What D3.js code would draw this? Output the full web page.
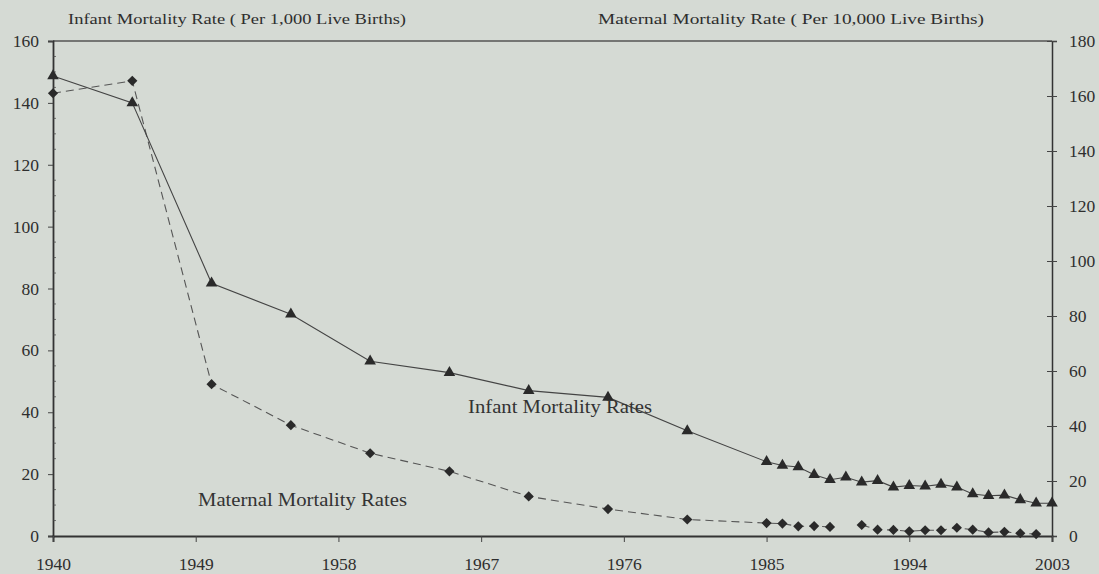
<!DOCTYPE html>
<html>
<head>
<meta charset="utf-8">
<style>
body { margin:0; background:#d5dad4; }
svg { display:block; font-family:"Liberation Serif","Times New Roman",serif; }
.axis text { fill:#2e2e2e; font-size:17.5px; font-family:"Liberation Serif","Times New Roman",serif; }
.axis line { stroke:#444; }
.title { fill:#2e2e2e; font-size:15.5px; }
.note { fill:#333; font-size:19.5px; }
</style>
</head>
<body>
<svg id="chart"></svg>
<script src="https://cdnjs.cloudflare.com/ajax/libs/d3/7.8.5/d3.min.js"></script>
<script>
// years sampled every 5 yrs until 1985, then yearly
var years = [1940,1945,1950,1955,1960,1965,1970,1975,1980,1985,1986,1987,1988,1989,1990,
             1991,1992,1993,1994,1995,1996,1997,1998,1999,2000,2001,2002,2003]
// infant mortality, per 1,000 live births (left axis)
var infantRates = [148.7,140,81.7,71.7,56.5,52.8,47.0,44.8,34.0,24.0,22.8,22.3,19.8,18.2,19.0,
                   17.4,17.9,15.8,16.3,16.1,16.7,15.8,13.6,13.0,13.2,11.7,10.6,10.6]
// maternal mortality, per 10,000 live births (right axis); null = no data
var maternalRates = [161,165.5,55.2,40.3,30.1,23.5,14.4,9.8,6.0,4.7,4.5,3.5,3.6,3.3,null,
                     4.0,2.3,2.2,1.7,2.1,2.1,3.0,2.3,1.3,1.5,1.0,0.7,null]
var xTicks = [1940,1949,1958,1967,1976,1985,1994,2003]
var leftTicks = [0,20,40,60,80,100,120,140,160]
var rightTicks = [0,20,40,60,80,100,120,140,160,180]

var W = 1099, H = 574
var margin = {top:41, right:47, bottom:38, left:53}
var x0 = margin.left, x1 = W - margin.right, y0 = H - margin.bottom, y1 = margin.top

var svg = d3.select('#chart').attr('width', W).attr('height', H)

var x = d3.scaleLinear().domain([1940,2003]).range([x0,x1])
var yL = d3.scaleLinear().domain([0,160]).range([y0,y1])
var yR = d3.scaleLinear().domain([0,180]).range([y0,y1])

var infant = years.map(function(y,i){ return {year:y, v:infantRates[i]} })
var maternal = years.map(function(y,i){ return {year:y, v:maternalRates[i]} })

// frame top line
svg.append('line').attr('x1',x0).attr('x2',x1).attr('y1',y1).attr('y2',y1)
   .attr('stroke','#555').attr('stroke-width',1.3)

// left axis
var gl = svg.append('g').attr('class','axis').attr('transform','translate('+x0+',0)')
  .call(d3.axisLeft(yL).tickValues(leftTicks).tickSize(5).tickPadding(9))
gl.select('.domain').attr('stroke','#333').attr('stroke-width',1.8)
gl.selectAll('.tick text').attr('dy','0.32em')
// small inner minor ticks
gl.selectAll('.minor').data(d3.range(5,160,5).filter(function(d){ return d%20 }))
  .enter().append('line').attr('class','minor')
  .attr('x1',0).attr('x2',3).attr('y1',function(d){ return yL(d) }).attr('y2',function(d){ return yL(d) })
  .attr('stroke','#777').attr('stroke-width',0.7)

// right axis (ticks crossing)
var gr = svg.append('g').attr('class','axis').attr('transform','translate('+x1+',0)')
  .call(d3.axisRight(yR).tickValues(rightTicks).tickSize(5).tickPadding(12))
gr.select('.domain').attr('stroke','#333').attr('stroke-width',1.5)
gr.selectAll('.tick line').attr('x1',-5)
gr.selectAll('.tick text').attr('dy','0.32em')

// bottom axis
var gb = svg.append('g').attr('class','axis').attr('transform','translate(0,'+y0+')')
  .call(d3.axisBottom(x).tickValues(xTicks).tickFormat(d3.format('d')).tickSize(6).tickPadding(16))
gb.select('.domain').attr('stroke','#333').attr('stroke-width',2)
gb.selectAll('.tick line').attr('stroke','#888')

// lines
var lineL = d3.line().defined(function(d){ return d.v != null })
  .x(function(d){ return x(d.year) }).y(function(d){ return yL(d.v) })
var lineR = d3.line().defined(function(d){ return d.v != null })
  .x(function(d){ return x(d.year) }).y(function(d){ return yR(d.v) })

svg.append('path').datum(maternal).attr('d',lineR)
   .attr('fill','none').attr('stroke','#555').attr('stroke-width',1.1).attr('stroke-dasharray','8,5')
svg.append('path').datum(infant).attr('d',lineL)
   .attr('fill','none').attr('stroke','#444').attr('stroke-width',1.1)

// markers
svg.selectAll('.dia').data(maternal.filter(function(d){ return d.v != null }))
  .enter().append('path').attr('class','dia')
  .attr('d', d3.symbol().type(d3.symbolSquare).size(52))
  .attr('transform', function(d){ return 'translate('+x(d.year)+','+yR(d.v)+') rotate(45)' })
  .attr('fill','#2a2a2a')
svg.selectAll('.tri').data(infant)
  .enter().append('path').attr('class','tri')
  .attr('d', d3.symbol().type(d3.symbolTriangle).size(58))
  .attr('transform', function(d){ return 'translate('+x(d.year)+','+yL(d.v)+')' })
  .attr('fill','#2a2a2a')

// titles and labels (scan is a little wide, so stretch to measured widths)
svg.append('text').attr('class','title').attr('x',68).attr('y',24)
   .attr('textLength',338).attr('lengthAdjust','spacingAndGlyphs')
   .text('Infant Mortality Rate ( Per 1,000 Live Births)')
svg.append('text').attr('class','title').attr('x',598).attr('y',24)
   .attr('textLength',386).attr('lengthAdjust','spacingAndGlyphs')
   .text('Maternal Mortality Rate ( Per 10,000 Live Births)')
svg.append('text').attr('class','note').attr('x',468).attr('y',413)
   .attr('textLength',184).attr('lengthAdjust','spacingAndGlyphs')
   .text('Infant Mortality Rates')
svg.append('text').attr('class','note').attr('x',198).attr('y',506)
   .attr('textLength',209).attr('lengthAdjust','spacingAndGlyphs')
   .text('Maternal Mortality Rates')
</script>
</body>
</html>
